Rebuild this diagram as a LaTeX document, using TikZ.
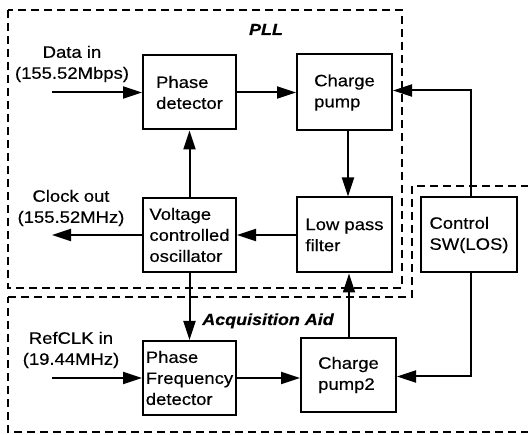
\documentclass[tikz,border=0pt]{standalone}
\usepackage{fontspec}
\setmainfont{Liberation Sans}[FakeStretch=1.12,FakeBold=0.4]
\usetikzlibrary{arrows.meta}
\begin{document}
\begin{tikzpicture}[x=1pt,y=-1pt,
  font=\fontsize{16.5}{21}\selectfont,
  blk/.style={draw,line width=2pt,align=left,inner sep=0pt},
  conn/.style={line width=2pt,-{Triangle[length=19pt 0,width=12pt 0]}},
  region/.style={line width=2pt,dash pattern=on 8pt off 5pt},
  lbl/.style={align=center,inner sep=0pt},
  title/.style={inner sep=0pt,font=\fontsize{16}{19}\selectfont\bfseries\itshape}]
\useasboundingbox (0,0) rectangle (528,435);
% regions
\draw[region] (8,10) rectangle (402,288);
\draw[region] (8,297) -- (412,297) -- (412,186) -- (532,186) -- (532,432) -- (8,432) -- cycle;
\node[title,anchor=base] (pll) at (266,35) {PLL};
\node[title,anchor=base] (acq) at (268,325) {Acquisition Aid};
% blocks
\node[blk,minimum width=93pt,minimum height=74pt] (pd) at (189.5,92.5) {Phase\\detector};
\node[blk,minimum width=95pt,minimum height=76pt] (cp) at (344.5,92.5) {Charge\\pump};
\node[blk,minimum width=93pt,minimum height=74pt] (vco) at (189.5,235) {Voltage\\controlled\\oscillator};
\node[blk,minimum width=95pt,minimum height=75pt] (lpf) at (344.5,235) {Low pass\\filter};
\node[blk,minimum width=96pt,minimum height=75pt] (ctl) at (469,235) {Control\\SW(LOS)};
\node[blk,minimum width=93pt,minimum height=74pt] (pfd) at (189.5,378) {Phase\\Frequency\\detector};
\node[blk,minimum width=95pt,minimum height=74pt] (cp2) at (348.5,375) {Charge\\pump2};
% external labels
\node[lbl] (din) at (72,64) {Data in\\(155.52Mbps)};
\node[lbl] (cout) at (71,208) {Clock out\\(155.52MHz)};
\node[lbl] (rin) at (71,350) {RefCLK in\\(19.44MHz)};
\coordinate (dinS) at (52,92.5);
\coordinate (coutE) at (52,235);
\coordinate (rinS) at (52,378);
\coordinate (ctlTop) at (471,90.5);
\coordinate (ctlBot) at (471,376.5);
% connectors
\draw[conn] (dinS) -- (pd.west);
\draw[conn] (pd.east) -- (cp.west);
\draw[conn] (cp.south -| 348,0) -- (lpf.north -| 348,0);
\draw[conn] (lpf.west) -- (vco.east);
\draw[conn] (vco.west) -- (coutE);
\draw[conn] (vco.north) -- (pd.south);
\draw[conn] (vco.south) -- (pfd.north);
\draw[conn] (rinS) -- (pfd.west |- rinS);
\draw[conn] (pfd.east |- rinS) -- (cp2.west |- rinS);
\draw[conn] (cp2.north -| 349,0) -- (lpf.south -| 349,0);
\draw[conn] (ctl.north -| ctlTop) -- (ctlTop) -- (cp.east |- ctlTop);
\draw[conn] (ctl.south -| ctlBot) -- (ctlBot) -- (cp2.east |- ctlBot);
\end{tikzpicture}
\end{document}
